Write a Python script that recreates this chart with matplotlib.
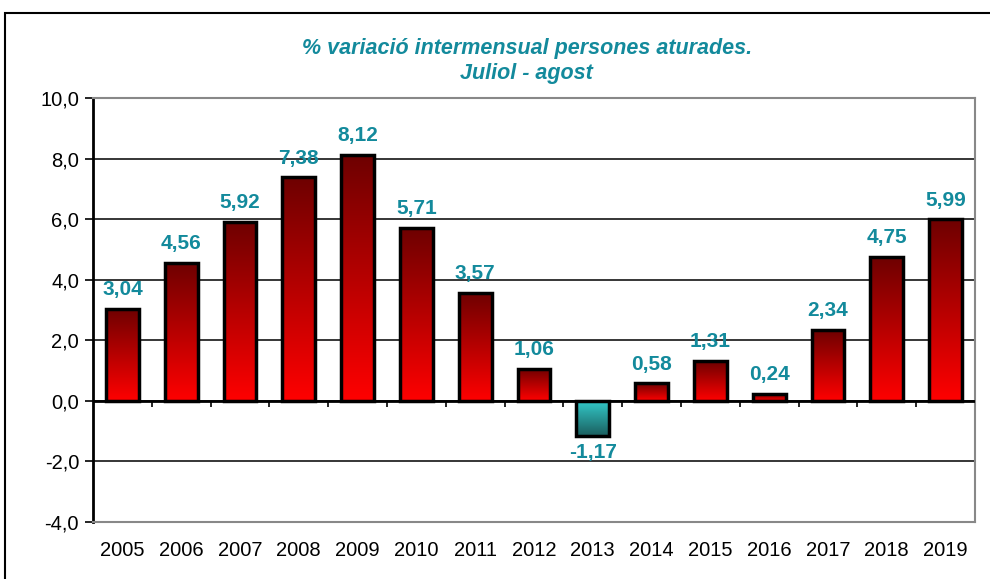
import numpy as np
import matplotlib
matplotlib.use("Agg")
import matplotlib.pyplot as plt
from matplotlib.colors import LinearSegmentedColormap
from matplotlib.ticker import FuncFormatter

plt.rcParams['font.family'] = ['Liberation Sans', 'DejaVu Sans']

anys = ['2005', '2006', '2007', '2008', '2009', '2010', '2011', '2012',
        '2013', '2014', '2015', '2016', '2017', '2018', '2019']
variacio = [3.04, 4.56, 5.92, 7.38, 8.12, 5.71, 3.57, 1.06,
            -1.17, 0.58, 1.31, 0.24, 2.34, 4.75, 5.99]

titol = "% variació intermensual persones aturades.\nJuliol - agost"
color_text = '#138A9C'

vermell = LinearSegmentedColormap.from_list('vermell', ['#FF0000', '#6E0000'])
verd = LinearSegmentedColormap.from_list('verd', ['#1B5E5E', '#33CCCC'])

fig = plt.figure(figsize=(9.9, 5.79), dpi=100)
# marc exterior del grafic
fig.patches.append(plt.Rectangle((5 / 990, -0.01), 1.0, 1 - 13 / 579 + 0.01,
                                 transform=fig.transFigure, fill=False,
                                 edgecolor='black', linewidth=1.5))
ax = fig.add_axes([93 / 990, 1 - 522 / 579, 882 / 990, 424 / 579])

x = np.arange(len(anys))
amplada = 0.56
ax.set_xlim(-0.5, len(anys) - 0.5)
ax.set_ylim(-4, 10)

grad = np.linspace(0, 1, 256).reshape(-1, 1)
barres = ax.bar(x, variacio, width=amplada, facecolor='none',
                edgecolor='black', linewidth=2.5, zorder=4)
for b, v in zip(barres, variacio):
    x0, y0 = b.get_x(), b.get_y()
    w, h = b.get_width(), b.get_height()
    lo, hi = min(y0, y0 + h), max(y0, y0 + h)
    cmap = vermell if v >= 0 else verd
    im = ax.imshow(grad, extent=[x0, x0 + w, lo, hi], origin='lower',
                   cmap=cmap, aspect='auto', zorder=3)
    im.set_clip_path(b)

for xi, v in zip(x, variacio):
    txt = f"{v:.2f}".replace('.', ',')
    if v >= 0:
        ax.annotate(txt, (xi, v), xytext=(0, 7), textcoords='offset points',
                    ha='center', va='bottom', fontsize=15, fontweight='bold',
                    color=color_text, zorder=5)
    else:
        ax.annotate(txt, (xi, v), xytext=(0, -5), textcoords='offset points',
                    ha='center', va='top', fontsize=15, fontweight='bold',
                    color=color_text, zorder=5)

ax.set_yticks(np.arange(-4, 10.1, 2))
ax.yaxis.set_major_formatter(FuncFormatter(lambda v, p: f"{v:.1f}".replace('.', ',')))
ax.yaxis.grid(True, color='black', linewidth=1.1, zorder=1)
ax.set_axisbelow(True)
ax.tick_params(axis='y', direction='out', length=6, width=1.2, labelsize=14.5, pad=4)

ax.set_xticks(x)
ax.set_xticklabels(anys)
ax.tick_params(axis='x', length=0, labelsize=14.5, pad=14)

# eix de les x a y=0 amb marques entre categories
ax.axhline(0, color='black', linewidth=2, zorder=6)
ax.vlines(x[:-1] + 0.5, -0.2, 0, color='black', linewidth=1.2, zorder=6)

ax.spines['left'].set_linewidth(2)
for costat in ['top', 'right', 'bottom']:
    ax.spines[costat].set_color('#888888')
    ax.spines[costat].set_linewidth(1.5)

fig.text(0.532, 1 - 61 / 579, titol, ha='center', va='center', fontsize=15.5,
         fontweight='bold', fontstyle='italic', color=color_text, linespacing=1.3)

fig.savefig('out.png', dpi=100)
